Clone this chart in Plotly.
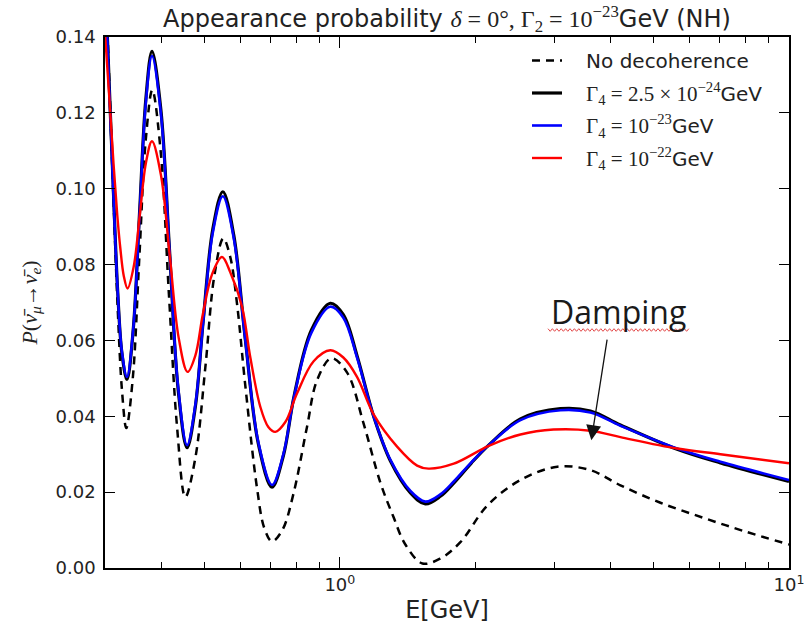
import math
import plotly.graph_objects as go

# ---- data: energy E [GeV] and appearance probability P for each model ----
e_nodec = [0.300, 0.3067, 0.3134, 0.3203, 0.3272, 0.3346, 0.3459, 0.3576, 0.3698, 0.3823,
           0.3990, 0.4162, 0.4342, 0.4529, 0.4767, 0.5017, 0.5254, 0.5502, 0.5702, 0.5902,
           0.6160, 0.6541, 0.6790, 0.7063, 0.7447, 0.7888, 0.8450, 0.8897, 0.9574, 1.038,
           1.130, 1.231, 1.316, 1.399, 1.527, 1.674, 1.855, 2.131, 2.524, 3.051,
           3.614, 4.214, 5.173, 6.458, 8.000, 10.0]
p_nodec = [0.160, 0.128, 0.097, 0.068, 0.047, 0.0369, 0.050, 0.0815, 0.113, 0.126,
           0.110, 0.0724, 0.037, 0.0187, 0.029, 0.0528, 0.077, 0.0869, 0.082, 0.0697,
           0.048, 0.021, 0.0105, 0.0070, 0.010, 0.0197, 0.0372, 0.0495, 0.0553, 0.0515,
           0.038, 0.0225, 0.0135, 0.0062, 0.0012, 0.0025, 0.0068, 0.0165, 0.0232, 0.0267,
           0.0258, 0.0218, 0.0172, 0.0132, 0.0096, 0.0062]

e_g24 = [0.300, 0.3067, 0.3134, 0.3203, 0.3272, 0.3358, 0.3467, 0.3580, 0.3698, 0.3817,
         0.3994, 0.4176, 0.4367, 0.4569, 0.4767, 0.4966, 0.5213, 0.5488, 0.5806, 0.6160,
         0.6585, 0.7063, 0.7486, 0.7917, 0.8640, 0.9524, 1.018, 1.092, 1.189, 1.296,
         1.436, 1.550, 1.674, 1.793, 1.960, 2.145, 2.524, 3.098, 3.614, 4.214, 5.636,
         7.037, 10.0]
p_g24 = [0.156, 0.127, 0.0985, 0.0725, 0.0566, 0.0497, 0.0628, 0.0933, 0.1235, 0.1362,
         0.121, 0.0838, 0.0468, 0.0317, 0.0425, 0.0655, 0.0893, 0.0992, 0.0877, 0.0602,
         0.0327, 0.0213, 0.0296, 0.0456, 0.0627, 0.0698, 0.0668, 0.0560, 0.0400, 0.0282,
         0.0198, 0.0169, 0.0189, 0.0224, 0.0276, 0.0324, 0.0393, 0.0420, 0.0414, 0.0377,
         0.0313, 0.0277, 0.0228]

e_g23 = list(e_g24)
p_g23 = [0.155, 0.126, 0.0978, 0.0725, 0.0570, 0.0504, 0.0630, 0.0927, 0.1226, 0.1350,
         0.120, 0.0837, 0.0474, 0.0324, 0.0430, 0.0652, 0.0884, 0.0980, 0.0869, 0.0600,
         0.0331, 0.0219, 0.0300, 0.0454, 0.0620, 0.0689, 0.0660, 0.0555, 0.0400, 0.0285,
         0.0203, 0.0175, 0.0194, 0.0228, 0.0278, 0.0324, 0.0390, 0.0416, 0.0410, 0.0375,
         0.0315, 0.0280, 0.0232]

e_g22 = [0.300, 0.3067, 0.3134, 0.3195, 0.3244, 0.3303, 0.3368, 0.3475, 0.3586, 0.3700,
         0.3817, 0.3996, 0.4183, 0.4378, 0.4581, 0.4767, 0.4954, 0.5200, 0.5465, 0.5702,
         0.6057, 0.6320, 0.6652, 0.6930, 0.7183, 0.7562, 0.8027, 0.8742, 0.9524, 1.018,
         1.092, 1.189, 1.341, 1.486, 1.575, 1.793, 2.145, 2.524, 2.989, 3.614,
         4.214, 5.636, 7.037, 10.0]
p_g22 = [0.141, 0.124, 0.1066, 0.093, 0.0845, 0.0770, 0.0737, 0.0794, 0.0931, 0.1068,
         0.1125, 0.1036, 0.0821, 0.0606, 0.0517, 0.0560, 0.0669, 0.0776, 0.0820, 0.0780,
         0.0689, 0.0555, 0.0425, 0.0372, 0.0359, 0.0385, 0.0460, 0.0545, 0.0574, 0.0555,
         0.0504, 0.0405, 0.0320, 0.0270, 0.0262, 0.0275, 0.0322, 0.0352, 0.0365, 0.0362,
         0.0345, 0.0315, 0.0300, 0.0276]

x_major = [1, 10]
x_major_text = ["10<sup>0</sup>", "10<sup>1</sup>"]
x_minor = [0.3, 0.4, 0.5, 0.6, 0.7, 0.8, 0.9, 2, 3, 4, 5, 6, 7, 8, 9]
y_ticks = [0.00, 0.02, 0.04, 0.06, 0.08, 0.10, 0.12, 0.14]

SERIF = "Liberation Serif"
SANS = "DejaVu Sans"
INK = "#222222"


def mathspan(s, size=None):
    style = f"font-family:{SERIF}"
    if size:
        style += f";font-size:{size}px"
    return f'<span style="{style}">{s}</span>'


NBSP = "\u00a0" * 3

fig = go.Figure()
line_kw = dict(mode="lines", line_shape="spline")

fig.add_trace(go.Scatter(x=e_nodec, y=p_nodec, name=NBSP + "No decoherence", legendgroup="a",
                         line=dict(color="black", width=2.5, dash="8px,6px"), **line_kw))
fig.add_trace(go.Scatter(x=e_g24, y=p_g24, legendgroup="b",
                         name=NBSP + mathspan("Γ<sub>4</sub> = 2.5 × 10<sup>−24</sup>", 21) + "GeV",
                         line=dict(color="black", width=3.2), **line_kw))
fig.add_trace(go.Scatter(x=e_g23, y=p_g23, legendgroup="c",
                         name=NBSP + mathspan("Γ<sub>4</sub> = 10<sup>−23</sup>", 21) + "GeV",
                         line=dict(color="#0000ff", width=2.6), **line_kw))
fig.add_trace(go.Scatter(x=e_g22, y=p_g22, legendgroup="d",
                         name=NBSP + mathspan("Γ<sub>4</sub> = 10<sup>−22</sup>", 21) + "GeV",
                         line=dict(color="#ff0000", width=2.4), **line_kw))

# plot-area geometry in pixels (used for the decorative underline)
W, H = 808, 624
ML, MR, MT, MB = 105, 19, 37, 56
PW, PH = W - ML - MR, H - MT - MB


def to_paper(px, py):
    return (px - ML) / PW, (H - MB - py) / PH


# wavy spell-check style underline under the "Damping" label
pts = []
x = 548.0
k = 0
while x <= 690:
    pts.append(to_paper(x, 330 + (1.3 if k % 2 else -1.3)))
    x += 2.2
    k += 1
path = "M " + " L ".join(f"{a:.5f},{b:.5f}" for a, b in pts)

fig.update_layout(
    width=W, height=H,
    margin=dict(l=ML, r=MR, t=MT, b=MB, autoexpand=False),
    paper_bgcolor="white", plot_bgcolor="white",
    font=dict(family=SANS, color=INK),
    title=dict(
        text="Appearance probability " + mathspan("<i>δ</i> = 0°, Γ<sub>2</sub> = 10<sup>−23</sup>", 24) + "GeV (NH)",
        font=dict(size=24, family=SANS, color=INK),
        x=0.5, xref="paper", xanchor="center", y=1 - 19 / H, yanchor="middle",
    ),
    xaxis=dict(
        type="log", range=[math.log10(0.3), 1], automargin=False,
        tickvals=x_major, ticktext=x_major_text,
        ticks="inside", ticklen=11, tickwidth=1.3, tickcolor="black",
        minor=dict(tickvals=x_minor, ticks="inside", ticklen=6, tickwidth=1.2, tickcolor="black"),
        showline=True, linecolor="black", linewidth=1.6, mirror="ticks",
        showgrid=False, zeroline=False,
        tickfont=dict(size=18, family=SANS, color=INK),
        title=dict(text="E[GeV]", font=dict(size=24, family=SANS, color=INK), standoff=9),
    ),
    yaxis=dict(
        range=[0, 0.14], tickvals=y_ticks, tickformat=".2f", automargin=False,
        ticks="inside", ticklen=10, tickwidth=1.3, tickcolor="black",
        showline=True, linecolor="black", linewidth=1.6, mirror="ticks",
        showgrid=False, zeroline=False, ticklabelstandoff=4,
        tickfont=dict(size=18, family=SANS, color=INK),
        title=dict(text="<i>P</i>(<i>ν̄</i><sub><i>μ</i></sub>→<i>ν̄</i><sub><i>e</i></sub>)",
                   font=dict(size=22, family=SERIF, color=INK), standoff=12),
    ),
    legend=dict(
        x=(527 - ML) / PW, y=(H - MB - 41) / PH, xanchor="left", yanchor="top",
        bgcolor="rgba(0,0,0,0)", borderwidth=0,
        font=dict(size=20, family=SANS, color=INK),
        traceorder="grouped", tracegroupgap=3.5, itemwidth=30,
    ),
    showlegend=True,
    shapes=[dict(type="path", path=path, xref="paper", yref="paper",
                 line=dict(color="#e34a4a", width=1))],
    annotations=[
        dict(x=math.log10(3.63), y=0.0337, xref="x", yref="y", text="",
             showarrow=True, ax=16, ay=-102, arrowhead=2, arrowsize=2.3,
             arrowwidth=1.3, arrowcolor="#111111", standoff=0),
        dict(x=0.6203, y=0.0677, xref="x", yref="y", text="Damping",
             showarrow=False, xanchor="center", yanchor="middle",
             font=dict(size=32, family="Open Sans", color="#1a1a1a")),
    ],
)

fig.write_html("out.html")
